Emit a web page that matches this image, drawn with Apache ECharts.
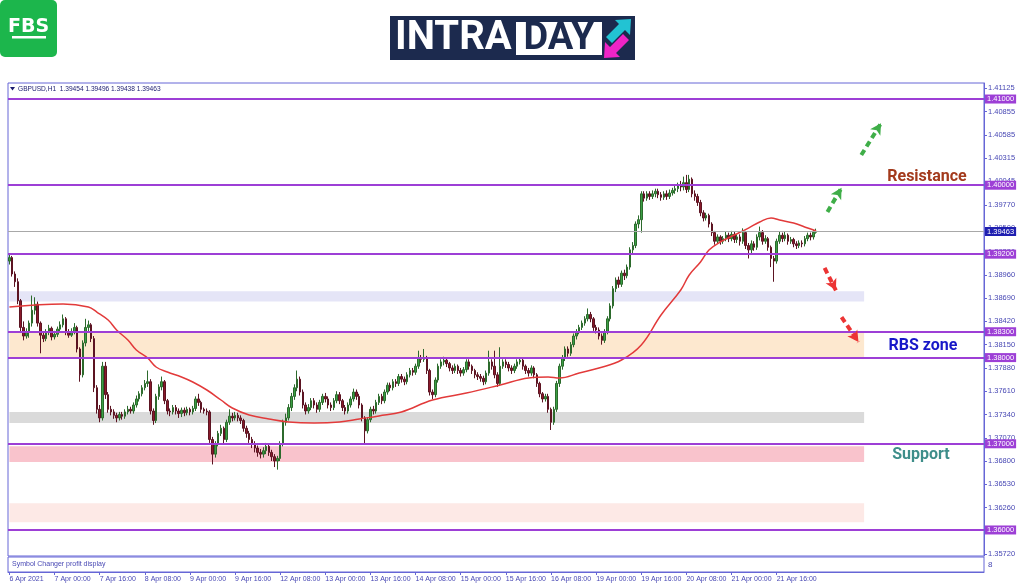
<!DOCTYPE html>
<html><head><meta charset="utf-8">
<script src="https://cdn.jsdelivr.net/npm/echarts@6/dist/echarts.min.js"></script>
<style>html,body{margin:0;padding:0;background:#fff;}#c{width:1024px;height:587px;}</style>
</head><body><div id="c"></div>
<script>
const symbolName = 'GBPUSD,H1';
const tickLabels = ['6 Apr 2021','7 Apr 00:00','7 Apr 16:00','8 Apr 08:00','9 Apr 00:00','9 Apr 16:00','12 Apr 08:00','13 Apr 00:00','13 Apr 16:00','14 Apr 08:00','15 Apr 00:00','15 Apr 16:00','16 Apr 08:00','19 Apr 00:00','19 Apr 16:00','20 Apr 08:00','21 Apr 00:00','21 Apr 16:00'];
const barsPerLabel = 16;
const totalSlots = 346;
const yTicks = [1.41125,1.40855,1.40585,1.40315,1.40045,1.39770,1.39500,1.39230,1.38960,1.38690,1.38420,1.38150,1.37880,1.37610,1.37340,1.37070,1.36800,1.36530,1.36260,1.35990,1.35720];
const levels = [1.41000,1.40000,1.39200,1.38300,1.38000,1.37000,1.36000];
const lastPrice = 1.39463;
const zoneHighs = [1.3877,1.3830,1.3737,1.3697,1.3631];
const zoneLows  = [1.3865,1.3800,1.3724,1.3679,1.3609];
// [open, close, low, high]
const ohlc = [
[1.3912,1.3916,1.3908,1.3921],[1.3916,1.3897,1.3894,1.3918],[1.3897,1.3888,1.3882,1.3900],[1.3888,1.3866,1.3862,1.3892],
[1.3866,1.3835,1.3830,1.3868],[1.3835,1.3825,1.3820,1.3842],[1.3825,1.3830,1.3822,1.3834],[1.3830,1.3840,1.3823,1.3843],
[1.3840,1.3855,1.3836,1.3872],[1.3855,1.3862,1.3850,1.3870],[1.3862,1.3840,1.3836,1.3865],[1.3840,1.3826,1.3805,1.3842],
[1.3826,1.3822,1.3818,1.3830],[1.3822,1.3830,1.3819,1.3833],[1.3830,1.3834,1.3826,1.3838],[1.3834,1.3824,1.3820,1.3836],
[1.3824,1.3827,1.3821,1.3831],[1.3827,1.3833,1.3824,1.3836],[1.3833,1.3838,1.3830,1.3842],[1.3838,1.3845,1.3835,1.3850],
[1.3845,1.3830,1.3826,1.3847],[1.3830,1.3826,1.3823,1.3833],[1.3826,1.3830,1.3824,1.3834],[1.3830,1.3835,1.3827,1.3840],
[1.3835,1.3810,1.3806,1.3837],[1.3810,1.3780,1.3772,1.3812],[1.3780,1.3817,1.3777,1.3820],[1.3817,1.3835,1.3813,1.3845],
[1.3835,1.3838,1.3830,1.3843],[1.3838,1.3822,1.3818,1.3840],[1.3822,1.3765,1.3760,1.3825],[1.3765,1.3740,1.3735,1.3768],
[1.3740,1.3730,1.3725,1.3745],[1.3730,1.3790,1.3727,1.3795],[1.3790,1.3757,1.3752,1.3795],[1.3757,1.3740,1.3736,1.3760],
[1.3740,1.3737,1.3733,1.3744],[1.3737,1.3733,1.3729,1.3740],[1.3733,1.3730,1.3725,1.3736],[1.3730,1.3734,1.3727,1.3737],
[1.3734,1.3732,1.3728,1.3737],[1.3732,1.3737,1.3729,1.3740],[1.3737,1.3740,1.3734,1.3744],[1.3740,1.3738,1.3735,1.3743],
[1.3738,1.3745,1.3735,1.3748],[1.3745,1.3752,1.3742,1.3756],[1.3752,1.3758,1.3749,1.3761],[1.3758,1.3765,1.3755,1.3768],
[1.3765,1.3770,1.3762,1.3774],[1.3770,1.3772,1.3766,1.3785],[1.3772,1.3738,1.3734,1.3775],[1.3738,1.3727,1.3722,1.3741],
[1.3727,1.3755,1.3724,1.3758],[1.3755,1.3766,1.3751,1.3769],[1.3766,1.3772,1.3762,1.3778],[1.3772,1.3750,1.3746,1.3774],
[1.3750,1.3738,1.3734,1.3752],[1.3738,1.3737,1.3732,1.3741],[1.3737,1.3742,1.3734,1.3745],[1.3742,1.3738,1.3734,1.3745],
[1.3738,1.3735,1.3730,1.3741],[1.3735,1.3739,1.3731,1.3742],[1.3739,1.3736,1.3732,1.3742],[1.3736,1.3740,1.3733,1.3743],
[1.3740,1.3737,1.3733,1.3742],[1.3737,1.3741,1.3734,1.3744],[1.3741,1.3752,1.3738,1.3755],[1.3752,1.3748,1.3744,1.3758],
[1.3748,1.3740,1.3736,1.3750],[1.3740,1.3738,1.3735,1.3742],[1.3738,1.3737,1.3733,1.3741],[1.3737,1.3705,1.3701,1.3739],
[1.3705,1.3688,1.3676,1.3708],[1.3688,1.3700,1.3684,1.3703],[1.3700,1.3712,1.3697,1.3715],[1.3712,1.3718,1.3709,1.3722],
[1.3718,1.3705,1.3700,1.3720],[1.3705,1.3725,1.3702,1.3728],[1.3725,1.3732,1.3722,1.3740],[1.3732,1.3730,1.3726,1.3736],
[1.3730,1.3733,1.3727,1.3737],[1.3733,1.3730,1.3726,1.3736],[1.3730,1.3727,1.3723,1.3733],[1.3727,1.3718,1.3714,1.3729],
[1.3718,1.3712,1.3707,1.3721],[1.3712,1.3705,1.3701,1.3715],[1.3705,1.3700,1.3695,1.3708],[1.3700,1.3695,1.3690,1.3703],
[1.3695,1.3690,1.3685,1.3698],[1.3690,1.3688,1.3683,1.3694],[1.3688,1.3692,1.3684,1.3696],[1.3692,1.3697,1.3688,1.3701],
[1.3697,1.3690,1.3686,1.3700],[1.3690,1.3685,1.3680,1.3693],[1.3685,1.3680,1.3673,1.3688],[1.3680,1.3683,1.3670,1.3686],
[1.3683,1.3700,1.3680,1.3703],[1.3700,1.3725,1.3697,1.3728],[1.3725,1.3730,1.3721,1.3735],[1.3730,1.3742,1.3727,1.3746],
[1.3742,1.3755,1.3738,1.3759],[1.3755,1.3765,1.3751,1.3769],[1.3765,1.3775,1.3761,1.3785],[1.3775,1.3760,1.3756,1.3778],
[1.3760,1.3745,1.3741,1.3763],[1.3745,1.3738,1.3734,1.3748],[1.3738,1.3742,1.3735,1.3746],[1.3742,1.3750,1.3739,1.3753],
[1.3750,1.3745,1.3741,1.3753],[1.3745,1.3740,1.3736,1.3748],[1.3740,1.3748,1.3737,1.3751],[1.3748,1.3755,1.3745,1.3758],
[1.3755,1.3752,1.3748,1.3759],[1.3752,1.3745,1.3741,1.3755],[1.3745,1.3742,1.3738,1.3748],[1.3742,1.3750,1.3739,1.3753],
[1.3750,1.3757,1.3747,1.3761],[1.3757,1.3750,1.3746,1.3760],[1.3750,1.3742,1.3738,1.3752],[1.3742,1.3738,1.3734,1.3745],
[1.3738,1.3745,1.3735,1.3748],[1.3745,1.3752,1.3742,1.3755],[1.3752,1.3760,1.3749,1.3764],[1.3760,1.3755,1.3751,1.3763],
[1.3755,1.3745,1.3741,1.3758],[1.3745,1.3730,1.3726,1.3747],[1.3730,1.3715,1.3700,1.3732],[1.3715,1.3728,1.3712,1.3731],
[1.3728,1.3740,1.3725,1.3743],[1.3740,1.3738,1.3734,1.3744],[1.3738,1.3748,1.3735,1.3751],[1.3748,1.3755,1.3745,1.3758],
[1.3755,1.3750,1.3746,1.3758],[1.3750,1.3760,1.3747,1.3763],[1.3760,1.3768,1.3757,1.3771],[1.3768,1.3765,1.3761,1.3771],
[1.3765,1.3772,1.3762,1.3775],[1.3772,1.3770,1.3766,1.3775],[1.3770,1.3778,1.3767,1.3781],[1.3778,1.3775,1.3771,1.3781],
[1.3775,1.3772,1.3768,1.3778],[1.3772,1.3780,1.3769,1.3783],[1.3780,1.3785,1.3777,1.3788],[1.3785,1.3783,1.3779,1.3788],
[1.3783,1.3790,1.3780,1.3793],[1.3790,1.3800,1.3787,1.3808],[1.3800,1.3798,1.3794,1.3803],[1.3798,1.3800,1.3795,1.3810],
[1.3800,1.3785,1.3781,1.3802],[1.3785,1.3760,1.3756,1.3787],[1.3760,1.3757,1.3752,1.3763],[1.3757,1.3774,1.3754,1.3777],
[1.3774,1.3790,1.3771,1.3793],[1.3790,1.3795,1.3787,1.3798],[1.3795,1.3797,1.3791,1.3801],[1.3797,1.3793,1.3789,1.3800],
[1.3793,1.3788,1.3784,1.3795],[1.3788,1.3785,1.3781,1.3791],[1.3785,1.3790,1.3782,1.3793],[1.3790,1.3785,1.3781,1.3792],
[1.3785,1.3782,1.3778,1.3788],[1.3782,1.3786,1.3779,1.3789],[1.3786,1.3795,1.3783,1.3798],[1.3795,1.3790,1.3786,1.3798],
[1.3790,1.3785,1.3781,1.3792],[1.3785,1.3780,1.3776,1.3787],[1.3780,1.3778,1.3774,1.3783],[1.3778,1.3776,1.3772,1.3781],
[1.3776,1.3772,1.3768,1.3779],[1.3772,1.3782,1.3769,1.3785],[1.3782,1.3795,1.3779,1.3808],[1.3795,1.3790,1.3786,1.3798],
[1.3790,1.3780,1.3776,1.3808],[1.3780,1.3770,1.3766,1.3783],[1.3770,1.3790,1.3767,1.3812],[1.3790,1.3795,1.3787,1.3798],
[1.3795,1.3792,1.3788,1.3798],[1.3792,1.3788,1.3784,1.3795],[1.3788,1.3785,1.3781,1.3791],[1.3785,1.3790,1.3782,1.3793],
[1.3790,1.3795,1.3787,1.3798],[1.3795,1.3797,1.3792,1.3800],[1.3797,1.3790,1.3786,1.3799],[1.3790,1.3785,1.3781,1.3792],
[1.3785,1.3782,1.3778,1.3788],[1.3782,1.3788,1.3779,1.3791],[1.3788,1.3780,1.3776,1.3790],[1.3780,1.3770,1.3766,1.3782],
[1.3770,1.3758,1.3754,1.3772],[1.3758,1.3752,1.3748,1.3760],[1.3752,1.3755,1.3749,1.3758],[1.3755,1.3740,1.3736,1.3758],
[1.3740,1.3725,1.3716,1.3742],[1.3725,1.3740,1.3722,1.3743],[1.3740,1.3770,1.3737,1.3773],[1.3770,1.3790,1.3766,1.3793],
[1.3790,1.3800,1.3786,1.3803],[1.3800,1.3810,1.3796,1.3813],[1.3810,1.3805,1.3801,1.3813],[1.3805,1.3815,1.3802,1.3818],
[1.3815,1.3825,1.3812,1.3828],[1.3825,1.3830,1.3821,1.3833],[1.3830,1.3835,1.3827,1.3838],[1.3835,1.3840,1.3832,1.3843],
[1.3840,1.3845,1.3837,1.3848],[1.3845,1.3850,1.3842,1.3857],[1.3850,1.3845,1.3841,1.3853],[1.3845,1.3835,1.3831,1.3847],
[1.3835,1.3832,1.3828,1.3838],[1.3832,1.3825,1.3821,1.3835],[1.3825,1.3820,1.3815,1.3828],[1.3820,1.3830,1.3817,1.3833],
[1.3830,1.3845,1.3827,1.3848],[1.3845,1.3860,1.3842,1.3863],[1.3860,1.3880,1.3857,1.3883],[1.3880,1.3890,1.3876,1.3893],
[1.3890,1.3885,1.3881,1.3894],[1.3885,1.3898,1.3882,1.3901],[1.3898,1.3895,1.3890,1.3902],[1.3895,1.3905,1.3892,1.3908],
[1.3905,1.3925,1.3902,1.3928],[1.3925,1.3930,1.3921,1.3934],[1.3930,1.3955,1.3927,1.3958],[1.3955,1.3960,1.3950,1.3965],
[1.3960,1.3990,1.3945,1.3993],[1.3990,1.3985,1.3981,1.3993],[1.3985,1.3990,1.3982,1.3993],[1.3990,1.3987,1.3983,1.3993],
[1.3987,1.3990,1.3984,1.3994],[1.3990,1.3993,1.3986,1.3996],[1.3993,1.3989,1.3985,1.3996],[1.3989,1.3986,1.3982,1.3992],
[1.3986,1.3990,1.3983,1.3993],[1.3990,1.3987,1.3983,1.3994],[1.3987,1.3991,1.3984,1.3995],[1.3991,1.3994,1.3988,1.3997],
[1.3994,1.3996,1.3990,1.4000],[1.3996,1.4000,1.3992,1.4003],[1.4000,1.3998,1.3993,1.4005],[1.3998,1.4003,1.3994,1.4010],
[1.4003,1.3995,1.3991,1.4012],[1.3995,1.4007,1.3992,1.4012],[1.4007,1.3990,1.3986,1.4009],[1.3990,1.3987,1.3982,1.3994],
[1.3987,1.3980,1.3976,1.3990],[1.3980,1.3968,1.3964,1.3983],[1.3968,1.3962,1.3958,1.3971],[1.3962,1.3965,1.3959,1.3968],
[1.3965,1.3955,1.3951,1.3967],[1.3955,1.3945,1.3941,1.3957],[1.3945,1.3935,1.3931,1.3947],[1.3935,1.3940,1.3932,1.3943],
[1.3940,1.3935,1.3931,1.3942],[1.3935,1.3938,1.3932,1.3941],[1.3938,1.3942,1.3935,1.3946],[1.3942,1.3938,1.3934,1.3945],
[1.3938,1.3943,1.3935,1.3947],[1.3943,1.3937,1.3933,1.3946],[1.3937,1.3940,1.3933,1.3943],[1.3940,1.3935,1.3930,1.3943],
[1.3935,1.3945,1.3932,1.3950],[1.3945,1.3930,1.3926,1.3947],[1.3930,1.3925,1.3915,1.3933],[1.3925,1.3932,1.3921,1.3936],
[1.3932,1.3928,1.3924,1.3935],[1.3928,1.3940,1.3925,1.3943],[1.3940,1.3945,1.3936,1.3952],[1.3945,1.3935,1.3931,1.3948],
[1.3935,1.3938,1.3932,1.3942],[1.3938,1.3928,1.3924,1.3940],[1.3928,1.3915,1.3905,1.3930],[1.3915,1.3912,1.3888,1.3918],
[1.3912,1.3935,1.3909,1.3938],[1.3935,1.3942,1.3932,1.3946],[1.3942,1.3938,1.3934,1.3945],[1.3938,1.3942,1.3935,1.3946],
[1.3942,1.3935,1.3931,1.3944],[1.3935,1.3937,1.3932,1.3940],[1.3937,1.3932,1.3928,1.3939],[1.3932,1.3930,1.3926,1.3935],
[1.3930,1.3933,1.3927,1.3936],[1.3933,1.3932,1.3928,1.3936],[1.3932,1.3938,1.3929,1.3941],[1.3938,1.3942,1.3935,1.3945],
[1.3942,1.3940,1.3936,1.3945],[1.3940,1.39454,1.3937,1.3948],[1.39454,1.39463,1.39438,1.39496]
];
const maIdx = [0,19,28,31,35,38,42,45,49,52,56,61,65,70,75,79,85,92,99,108,117,124,131,139,150,162,174,184,191,195,202,209,217,224,231,238,241,245,248,252,257,262,266,270,273,278,283,286];
const maVal = [1.38587,1.38622,1.38587,1.38529,1.38436,1.38320,1.38204,1.38088,1.37995,1.37891,1.37833,1.37775,1.37717,1.37624,1.37508,1.37415,1.37334,1.37288,1.37253,1.37241,1.37253,1.37288,1.37323,1.37369,1.37508,1.37589,1.37682,1.37763,1.37775,1.37763,1.37821,1.37879,1.37972,1.38146,1.38494,1.38784,1.38958,1.39109,1.39248,1.39341,1.39422,1.39503,1.39573,1.39620,1.39596,1.39562,1.39503,1.39469];
const greenArrows = [[290,1.3969,295,1.3997],[302,1.4035,309,1.4072]];
const redArrows = [[289,1.3904,293,1.3878],[295,1.3847,301,1.3818]];

const categories = Array.from({length: totalSlots}, (_, i) => String(i));
const labelAt = (i) => i % barsPerLabel === 0 && i / barsPerLabel < tickLabels.length;
const SMALL = '"Liberation Sans", Arial, sans-serif';
const AXC = '#4848b4';
const FRAME = '#6666d6';
const LVL = '#9d3fd6';

const last = ohlc[ohlc.length - 1];
const titleText = symbolName + '  ' + [last[0], last[3], last[2], last[1]].map(v => v.toFixed(5)).join(' ');

const chart = echarts.init(document.getElementById('c'), null, {renderer: 'canvas'});
const arrowLine = (a, color) => [
  {coord: [a[0], a[1]], lineStyle: {color: color}},
  {coord: [a[2], a[3]]}
];
const boxLabel = (bg) => ({show: true, position: 'end', distance: 1, formatter: p => Number(p.value).toFixed(5), backgroundColor: bg, color: '#fff', fontSize: 7.5, fontFamily: SMALL, padding: [1, 2, 0, 2]});
chart.setOption({
  animation: false,
  backgroundColor: '#ffffff',
  grid: [
    {left: 8, right: 40, top: 83, height: 473, show: true, borderColor: FRAME, borderWidth: 1, backgroundColor: '#fff'},
    {left: 8, right: 40, top: 557, height: 15, show: true, borderColor: FRAME, borderWidth: 1}
  ],
  xAxis: [
    {gridIndex: 0, type: 'category', data: categories, boundaryGap: true, axisLine: {show: false}, axisTick: {show: false}, axisLabel: {show: false}, splitLine: {show: false}},
    {gridIndex: 1, type: 'category', data: categories, boundaryGap: true, position: 'bottom',
      axisLine: {show: true, lineStyle: {color: FRAME}},
      axisTick: {show: true, alignWithLabel: true, interval: labelAt, length: 3, lineStyle: {color: FRAME}},
      axisLabel: {interval: labelAt, formatter: (v, i) => tickLabels[i / barsPerLabel], align: 'left', color: AXC, fontSize: 7, fontFamily: SMALL, margin: 4},
      splitLine: {show: false}}
  ],
  yAxis: [
    {gridIndex: 0, type: 'value', position: 'right', min: 1.35698, max: 1.41186,
      axisLine: {show: true, lineStyle: {color: FRAME}},
      axisTick: {show: true, customValues: yTicks, length: 3, lineStyle: {color: FRAME}},
      axisLabel: {customValues: yTicks, formatter: v => v.toFixed(5), color: AXC, fontSize: 7.5, fontFamily: SMALL, margin: 4},
      splitLine: {show: false}},
    {gridIndex: 1, type: 'value', show: false}
  ],
  series: [
    {type: 'candlestick', xAxisIndex: 0, yAxisIndex: 0, data: ohlc, barWidth: 2, silent: true,
      itemStyle: {color: '#3a9f45', color0: '#8a1a2a', borderColor: '#2c6a2c', borderColor0: '#5c1422', borderWidth: 1},
      markArea: {silent: true, data: zoneLows.map((lo, k) => [
        {xAxis: 0, yAxis: zoneHighs[k], itemStyle: {color: ['#e5e5f7', '#fde8cf', '#dadada', '#f9c3cc', '#fde9e6'][k]}},
        {xAxis: 303, yAxis: lo}
      ])},
      markLine: {silent: true, symbol: 'none', animation: false, precision: 5,
        data: levels.map(v => ({yAxis: v, lineStyle: {color: LVL, width: 2, type: 'solid'}, label: boxLabel(LVL)}))
          .concat([{yAxis: lastPrice, lineStyle: {color: '#a8a8a8', width: 1, type: 'solid'}, label: boxLabel('#1f1fb0')}])
      },
      z: 3
    },
    {type: 'line', xAxisIndex: 0, yAxisIndex: 0, data: maIdx.map((x, k) => [x, maVal[k]]), smooth: 0.4, showSymbol: false, silent: true,
      lineStyle: {color: '#e23a3a', width: 1.5}, z: 4},
    {type: 'line', xAxisIndex: 0, yAxisIndex: 0, data: [], silent: true,
      markLine: {silent: true, precision: 5, symbol: ['none', 'arrow'], symbolSize: [9, 11], label: {show: false},
        lineStyle: {width: 4, type: [6, 4]},
        data: greenArrows.map(a => arrowLine(a, '#3fae48')).concat(redArrows.map(a => arrowLine(a, '#ec3434')))}
    }
  ],
  graphic: [
    {type: 'rect', shape: {x: 0, y: 0, width: 57, height: 57, r: 5}, style: {fill: '#1cb64c'}},
    {type: 'text', style: {x: 28.5, y: 27, text: 'FBS', fill: '#fff', font: 'bold 19px "DejaVu Sans", sans-serif', align: 'center', verticalAlign: 'middle'}},
    {type: 'rect', shape: {x: 12, y: 36, width: 34, height: 2.5}, style: {fill: '#fff'}},
    {type: 'rect', shape: {x: 390, y: 16, width: 245, height: 44}, style: {fill: '#1c2a4e'}},
    {type: 'text', style: {x: 395, y: 39, text: 'INTRA', fill: '#fff', font: 'bold 40px Roboto, sans-serif', verticalAlign: 'middle'}},
    {type: 'rect', shape: {x: 516, y: 22, width: 86, height: 33}, style: {fill: '#fff'}},
    {type: 'text', style: {x: 559, y: 39.5, text: 'DAY', fill: '#1c2a4e', font: 'bold 38px Roboto, sans-serif', align: 'center', verticalAlign: 'middle'}},
    {type: 'polygon', shape: {points: [[631, 19], [630, 35], [625, 30], [612, 43], [606, 37], [619, 24], [615, 20]]}, style: {fill: '#22c3d3'}},
    {type: 'polygon', shape: {points: [[604, 58], [605, 42], [610, 47], [623, 34], [629, 40], [616, 53], [620, 57]]}, style: {fill: '#ef24c6'}},
    {type: 'polygon', shape: {points: [[10, 87], [15, 87], [12.5, 90.5]]}, style: {fill: '#1a1a6e'}},
    {type: 'text', style: {x: 18, y: 89, text: titleText, fill: '#1a1a6e', font: '6.6px "Liberation Sans", Arial, sans-serif', verticalAlign: 'middle'}},
    {type: 'text', style: {x: 12, y: 564.5, text: 'Symbol Changer profit display', fill: AXC, font: '7px "Liberation Sans", Arial, sans-serif', verticalAlign: 'middle'}},
    {type: 'text', style: {x: 988, y: 565, text: '8', fill: AXC, font: '8px "Liberation Sans", Arial, sans-serif', verticalAlign: 'middle'}},
    {type: 'text', style: {x: 927, y: 177, text: 'Resistance', fill: '#a33a1c', font: 'bold 16px Roboto, sans-serif', align: 'center', verticalAlign: 'middle'}},
    {type: 'text', style: {x: 923, y: 346, text: 'RBS zone', fill: '#1818c8', font: 'bold 16px Roboto, sans-serif', align: 'center', verticalAlign: 'middle'}},
    {type: 'text', style: {x: 921, y: 455, text: 'Support', fill: '#3e8e8a', font: 'bold 16px Roboto, sans-serif', align: 'center', verticalAlign: 'middle'}}
  ]
});
</script>
</body></html>
